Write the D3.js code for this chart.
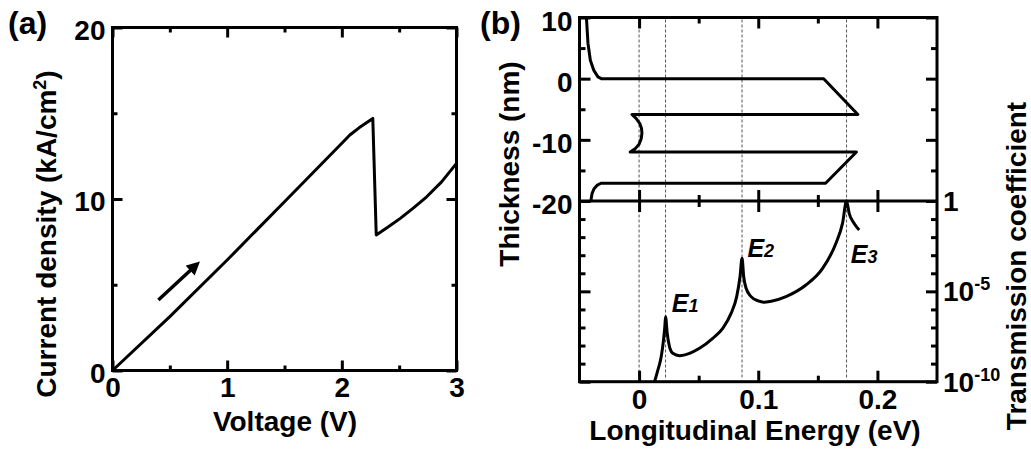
<!DOCTYPE html>
<html>
<head>
<meta charset="utf-8">
<title>jv_transmission</title>
<script src="https://d3js.org/d3.v7.min.js"></script>
<style>
  body { margin: 0; background: #fff; }
  text { font-family: "Liberation Sans", Arial, sans-serif; font-weight: bold; fill: #000; }
</style>
</head>
<body>
<svg width="1031" height="456" id="mainsvg"></svg>
<script>
// ---- panel (a): current density vs voltage
const voltage        = [0, 0.5, 1.0, 1.5, 2.0, 2.07, 2.15, 2.27, 2.30, 2.40, 2.51, 2.62, 2.74, 2.87, 3.0];
const currentDensity = [0, 3.14, 6.44, 9.84, 13.25, 13.73, 14.15, 14.7, 7.9, 8.35, 8.87, 9.45, 10.13, 11.0, 12.08];
const arrowV = [0.40, 0.72];
const arrowJ = [4.11, 6.09];
const aXMajor = [0, 1, 2, 3], aXMinor = [0.5, 1.5, 2.5];
const aYMajor = [0, 10, 20], aYMinor = [5, 15];

// ---- panel (b) top: band profile (energy vs thickness)
const bandEnergy    = [-0.0442, -0.0429, -0.0409, -0.0381, -0.0345, -0.0317, 0.1549, 0.1836,
                       -0.0060, -0.0025, 0.0005, 0.0020, 0.0024, 0.0018, 0.0000, -0.0030, -0.0074,
                       0.1824, 0.1565, -0.0320, -0.0350, -0.0378, -0.0395, -0.0405];
const bandThickness = [10, 5.8, 3.0, 1.4, 0.3, 0, 0, -5.85,
                       -5.85, -6.5, -7.3, -8.1, -8.9, -9.8, -10.7, -11.4, -12.0,
                       -12.0, -17.1, -17.1, -17.4, -18.0, -18.8, -20];

// ---- panel (b) bottom: transmission coefficient (log10)
const transEnergy = [0.0130, 0.0158, 0.0186, 0.0205, 0.0216, 0.0222, 0.0236, 0.0255, 0.0283, 0.0339,
                     0.0423, 0.0507, 0.0618, 0.0702, 0.0772, 0.0819, 0.0847, 0.0864, 0.0878, 0.0898,
                     0.0940, 0.1000, 0.1050, 0.1100, 0.1233, 0.1400, 0.1540, 0.1652, 0.1707, 0.1741,
                     0.1763, 0.1805, 0.1847];
const transLog    = [-10.0, -9.35, -8.61, -7.69, -6.95, -6.40, -7.32, -8.06, -8.43, -8.56,
                     -8.43, -8.15, -7.60, -7.05, -6.22, -5.29, -4.19, -3.17, -4.19, -4.83,
                     -5.29, -5.53, -5.60, -5.56, -5.29, -4.65, -3.73, -2.34, -1.24, 0,
                     -0.68, -1.24, -1.60];
const markerEnergy = [0, 0.0222, 0.0864, 0.1741];
const levelNames = ['1', '2', '3'];
const levelLabelE = [0.0275, 0.0909, 0.1777];
const levelLabelLog = [-6.15, -3.08, -3.45];

const bXMajor = [0, 0.1, 0.2], bXMinor = [0.05, 0.15];
const tYMajor = [10, 0, -10, -20], tYMinor = [5, -5, -15];
const lYMajor = [1, 1e-5, 1e-10];
const lYMinor = [1e-1, 1e-2, 1e-3, 1e-4, 1e-6, 1e-7, 1e-8, 1e-9];

const svg = d3.select('#mainsvg');
svg.append('rect').attr('width', 1031).attr('height', 456).attr('fill', '#fff');

// scales
const ax = d3.scaleLinear().domain([0, 3]).range([112.5, 456.5]);
const ay = d3.scaleLinear().domain([0, 20]).range([370.5, 27.5]);
const bx = d3.scaleLinear().domain([-0.05, 0.25]).range([579.5, 937]);
const ty = d3.scaleLinear().domain([-20, 10]).range([201, 17.5]);
const ly = d3.scaleLog().domain([1e-10, 1]).range([381.7, 201]);

function drawAxis(gen, values, size, y0, x0, fmt) {
  const g = svg.append('g')
    .attr('transform', `translate(${x0 || 0},${y0 || 0})`)
    .call(gen.tickValues(values).tickSize(size).tickPadding(7).tickFormat(fmt || (() => '')));
  g.select('.domain').remove();
  g.selectAll('.tick line').attr('stroke', '#000').attr('stroke-width', 3);
  g.selectAll('.tick text').style('font-size', '28px').attr('fill', '#000')
    .style('font-family', '"Liberation Sans", Arial, sans-serif').style('font-weight', 'bold');
  return g;
}
const plain = d => String(d);

// ---------- panel (a)
drawAxis(d3.axisBottom(ax), aXMajor, -10, 370.5, 0, plain);
drawAxis(d3.axisBottom(ax), aXMinor, -5, 370.5);
drawAxis(d3.axisTop(ax), aXMajor, -10, 27.5);
drawAxis(d3.axisTop(ax), aXMinor, -5, 27.5);
drawAxis(d3.axisLeft(ay), aYMajor, -10, 0, 112.5, plain).selectAll('.tick text').attr('dy', '0.42em');
drawAxis(d3.axisLeft(ay), aYMinor, -5, 0, 112.5);
drawAxis(d3.axisRight(ay), aYMajor, -10, 0, 456.5);
drawAxis(d3.axisRight(ay), aYMinor, -5, 0, 456.5);

svg.append('rect').attr('x', ax(0)).attr('y', ay(20))
  .attr('width', ax(3) - ax(0)).attr('height', ay(0) - ay(20))
  .attr('fill', 'none').attr('stroke', '#000').attr('stroke-width', 3);

const jvLine = d3.line().x(d => ax(d[0])).y(d => ay(d[1]));
svg.append('path').datum(voltage.map((v, i) => [v, currentDensity[i]]))
  .attr('d', jvLine).attr('fill', 'none').attr('stroke', '#000')
  .attr('stroke-width', 3).attr('stroke-linejoin', 'round');

svg.append('defs').append('marker').attr('id', 'arr')
  .attr('viewBox', '0 0 10 10').attr('refX', 5).attr('refY', 5)
  .attr('markerWidth', 4).attr('markerHeight', 3.8).attr('orient', 'auto')
  .attr('markerUnits', 'strokeWidth')
  .append('path').attr('d', 'M0,0 L10,5 L0,10 Z').attr('fill', '#000');
svg.append('line')
  .attr('x1', ax(arrowV[0])).attr('y1', ay(arrowJ[0]))
  .attr('x2', ax(arrowV[1])).attr('y2', ay(arrowJ[1]))
  .attr('stroke', '#000').attr('stroke-width', 3.5).attr('marker-end', 'url(#arr)');

svg.append('text').attr('x', 8).attr('y', 34).style('font-size', '32px').text('(a)');
svg.append('text').attr('x', 285).attr('y', 431).attr('text-anchor', 'middle')
  .style('font-size', '28px').text('Voltage (V)');
const ylab = svg.append('text').attr('transform', 'translate(56,234) rotate(-90)')
  .attr('text-anchor', 'middle').style('font-size', '28px');
ylab.append('tspan').text('Current density (kA/cm');
ylab.append('tspan').attr('dy', -10).style('font-size', '18px').text('2');
ylab.append('tspan').attr('dy', 10).text(')');

// ---------- panel (b)
const yTop = 17.5, yMid = 201, yBot = 381.7;
svg.append('g').selectAll('line').data(markerEnergy).join('line')
  .attr('x1', d => bx(d)).attr('x2', d => bx(d))
  .attr('y1', yTop + 2).attr('y2', yBot - 2)
  .attr('stroke', '#555').attr('stroke-width', 1).attr('stroke-dasharray', '3,2');

drawAxis(d3.axisTop(bx), bXMajor, -11, yTop);
drawAxis(d3.axisTop(bx), bXMinor, -6, yTop);
drawAxis(d3.axisBottom(bx), bXMajor, -11, yMid);
drawAxis(d3.axisBottom(bx), bXMinor, -6, yMid);
drawAxis(d3.axisTop(bx), bXMajor, -11, yMid);
drawAxis(d3.axisTop(bx), bXMinor, -6, yMid);
drawAxis(d3.axisBottom(bx), bXMajor, -11, yBot, 0, plain);
drawAxis(d3.axisBottom(bx), bXMinor, -6, yBot);

drawAxis(d3.axisLeft(ty), tYMajor, -11, 0, 579.5, plain).selectAll('.tick text').attr('dy', '0.45em');
drawAxis(d3.axisLeft(ty), tYMinor, -6, 0, 579.5);
drawAxis(d3.axisRight(ty), tYMajor, -11, 0, 937);
drawAxis(d3.axisRight(ty), tYMinor, -6, 0, 937);

drawAxis(d3.axisLeft(ly), lYMajor, -11, 0, 579.5);
drawAxis(d3.axisLeft(ly), lYMinor, -6, 0, 579.5);
drawAxis(d3.axisRight(ly), lYMajor, -11, 0, 937);
drawAxis(d3.axisRight(ly), lYMinor, -6, 0, 937);

// log tick labels on the right
const logLab = svg.append('g').selectAll('text').data(lYMajor).join('text')
  .attr('x', 943).attr('y', d => ly(d) + 10).style('font-size', '28px');
logLab.append('tspan').text(d => d === 1 ? '1' : '10');
logLab.append('tspan').attr('dy', -11).style('font-size', '18px')
  .text(d => d === 1 ? '' : String(Math.round(Math.log10(d))));

svg.append('rect').attr('x', bx(-0.05)).attr('y', yTop)
  .attr('width', bx(0.25) - bx(-0.05)).attr('height', yBot - yTop)
  .attr('fill', 'none').attr('stroke', '#000').attr('stroke-width', 3);
svg.append('line').attr('x1', bx(-0.05)).attr('x2', bx(0.25)).attr('y1', yMid).attr('y2', yMid)
  .attr('stroke', '#000').attr('stroke-width', 3);

const bandLine = d3.line().x(d => bx(d[0])).y(d => ty(d[1]));
svg.append('path').datum(bandEnergy.map((e, i) => [e, bandThickness[i]]))
  .attr('d', bandLine).attr('fill', 'none').attr('stroke', '#000')
  .attr('stroke-width', 3).attr('stroke-linejoin', 'round');

const transLine = d3.line().x(d => bx(d[0])).y(d => ly(Math.pow(10, d[1]))).curve(d3.curveMonotoneX);
svg.append('path').datum(transEnergy.map((e, i) => [e, transLog[i]]))
  .attr('d', transLine).attr('fill', 'none').attr('stroke', '#000')
  .attr('stroke-width', 3).attr('stroke-linejoin', 'round');

const lev = svg.append('g').selectAll('text').data(levelNames).join('text')
  .attr('x', (d, i) => bx(levelLabelE[i])).attr('y', (d, i) => ly(Math.pow(10, levelLabelLog[i])))
  .style('font-style', 'italic').style('font-size', '25px');
lev.append('tspan').text('E');
lev.append('tspan').style('font-size', '18px').text(d => d);

svg.append('text').attr('x', 480).attr('y', 34).style('font-size', '32px').text('(b)');
svg.append('text').attr('x', 755).attr('y', 440).attr('text-anchor', 'middle')
  .style('font-size', '28px').text('Longitudinal Energy (eV)');
svg.append('text').attr('transform', 'translate(519,164) rotate(-90)')
  .attr('text-anchor', 'middle').style('font-size', '28px').text('Thickness (nm)');
svg.append('text').attr('transform', 'translate(1026,266) rotate(-90)')
  .attr('text-anchor', 'middle').style('font-size', '28px').text('Transmission coefficient');
</script>
</body>
</html>
